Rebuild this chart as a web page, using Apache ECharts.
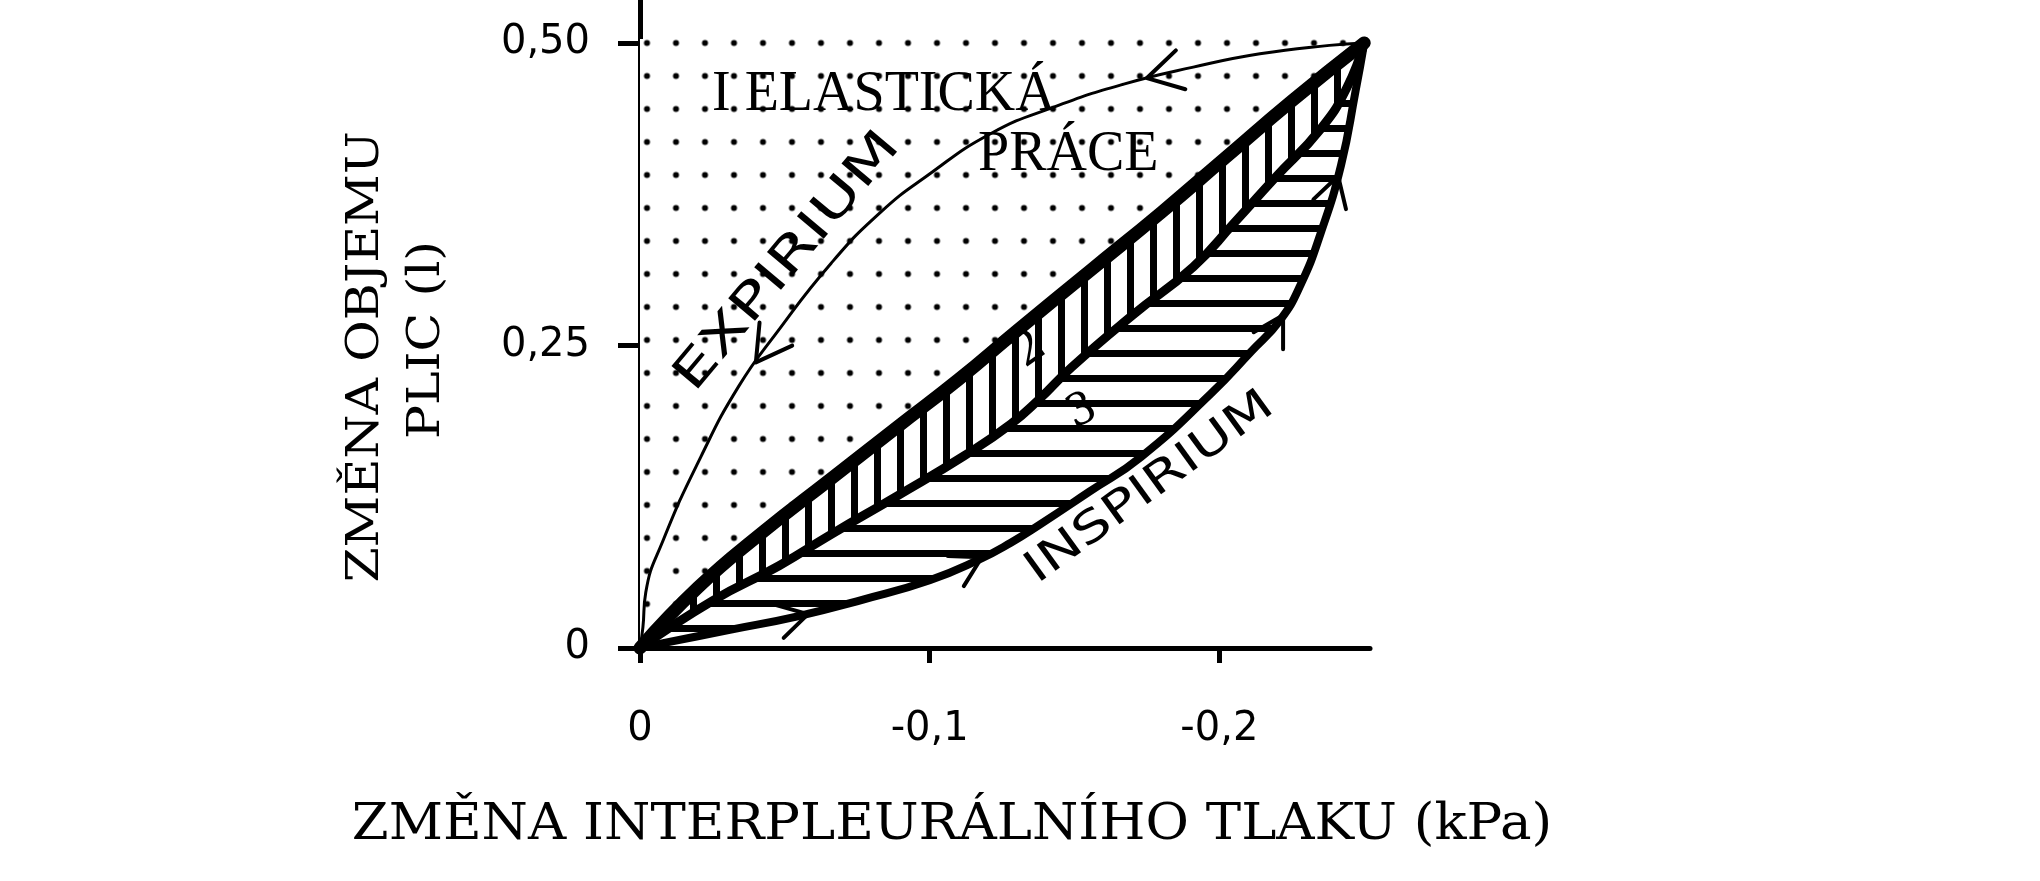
<!DOCTYPE html>
<html><head><meta charset="utf-8">
<script src="https://cdn.jsdelivr.net/npm/echarts@6/dist/echarts.min.js"></script>
<style>html,body{margin:0;padding:0;background:#fff}#c{width:2040px;height:881px}</style>
</head><body><div id="c"></div>
<script>
// ---------- DATA ----------
// x: change of interpleural pressure (kPa), y: change of lung volume (l)
const expX = [0, -0.001, -0.002, -0.008, -0.021, -0.034, -0.047, -0.066, -0.083, -0.099, -0.121, -0.144, -0.167, -0.191, -0.214, -0.238, -0.25];
const expY = [0, 0.017, 0.046, 0.089, 0.158, 0.216, 0.26, 0.318, 0.36, 0.39, 0.425, 0.448, 0.466, 0.48, 0.491, 0.498, 0.5];

const diagX = [0, -0.02, -0.042, -0.066, -0.089, -0.11, -0.13, -0.156, -0.18, -0.202, -0.225, -0.25];
const diagY = [0, 0.05, 0.095, 0.14, 0.183, 0.222, 0.262, 0.313, 0.36, 0.405, 0.452, 0.5];

const lowX = [0, -0.025, -0.048, -0.066, -0.089, -0.112, -0.128, -0.138, -0.149, -0.17, -0.191, -0.205, -0.219, -0.235, -0.244, -0.25];
const lowY = [0, 0.039, 0.068, 0.094, 0.126, 0.159, 0.185, 0.206, 0.232, 0.275, 0.315, 0.351, 0.388, 0.429, 0.463, 0.5];

const inspX = [0, -0.008, -0.031, -0.054, -0.077, -0.1, -0.117, -0.128, -0.138, -0.155, -0.173, -0.197, -0.211, -0.221, -0.228, -0.235, -0.242, -0.247, -0.25];
const inspY = [0, 0.004, 0.015, 0.026, 0.04, 0.056, 0.073, 0.087, 0.102, 0.129, 0.158, 0.21, 0.245, 0.271, 0.3, 0.343, 0.399, 0.46, 0.5];

const arrowExpX = [-0.175, -0.04];
const arrowExpY = [0.471, 0.236];
const arrowInspX = [-0.058, -0.118, -0.222, -0.241];
const arrowInspY = [0.028, 0.075, 0.275, 0.39];

const xTickValues = [0, -0.1, -0.2];
const yTickValues = [0, 0.25, 0.5];

const xTitle = 'ZMĚNA INTERPLEURÁLNÍHO TLAKU (kPa)';
const yTitle1 = 'ZMĚNA OBJEMU';
const yTitle2 = 'PLIC (l)';
const txtElastic = 'I ELASTICKÁ';
const txtPrace = 'PRÁCE';
const txtExp = 'EXPIRIUM';
const txtInsp = 'INSPIRIUM';
const txt2 = '2';
const txt3 = '3';

// ---------- helpers ----------
const pairs = (xs, ys) => xs.map((x, i) => [x, ys[i]]);
function tile(w, h, draw) {
  const c = document.createElement('canvas'); c.width = w; c.height = h;
  const g = c.getContext('2d'); g.fillStyle = '#fff'; g.fillRect(0, 0, w, h);
  g.fillStyle = '#000'; draw(g); return c;
}
const dotTile = tile(29, 33, g => { g.beginPath(); g.arc(14.5, 16.5, 3, 0, Math.PI * 2); g.fill(); });
const vTile = tile(23, 10, g => g.fillRect(0, 0, 7, 10));
const hTile = tile(10, 25, g => g.fillRect(0, 0, 10, 7));

const BLACK = '#000';
const SERIF = 'DejaVu Serif';
const SANS = 'DejaVu Sans';

function regionSeries(name, ptsFn, fill) {
  return {
    type: 'custom', name, z: 1, silent: true, clip: false, data: [[0, 0]],
    renderItem: (params, api) => ({
      type: 'polygon', shape: { points: ptsFn(api) }, style: { fill, stroke: null }
    })
  };
}
const toPx = (api, xs, ys) => xs.map((x, i) => api.coord([x, ys[i]]));

function arrowSeries(name, ax, ay, cx, cy, sign, len) {
  return {
    type: 'custom', name, z: 5, silent: true, clip: false, data: pairs(ax, ay),
    renderItem: (params, api) => {
      const tip = api.coord([api.value(0), api.value(1)]);
      const cp = toPx(api, cx, cy);
      let best = 0, bd = Infinity;
      for (let i = 0; i < cp.length - 1; i++) {
        const mx = (cp[i][0] + cp[i + 1][0]) / 2, my = (cp[i][1] + cp[i + 1][1]) / 2;
        const d = Math.hypot(mx - tip[0], my - tip[1]);
        if (d < bd && Math.hypot(cp[i+1][0]-cp[i][0], cp[i+1][1]-cp[i][1]) > 1) { bd = d; best = i; }
      }
      let dx = cp[best + 1][0] - cp[best][0], dy = cp[best + 1][1] - cp[best][1];
      const L = Math.hypot(dx, dy) || 1; dx = dx / L * sign; dy = dy / L * sign;
      const bx = -dx, by = -dy, a = 30 * Math.PI / 180;
      const rot = (x, y, t) => [x * Math.cos(t) - y * Math.sin(t), x * Math.sin(t) + y * Math.cos(t)];
      const b1 = rot(bx, by, a), b2 = rot(bx, by, -a);
      return {
        type: 'polyline',
        shape: { points: [[tip[0] + b1[0] * len, tip[1] + b1[1] * len], tip, [tip[0] + b2[0] * len, tip[1] + b2[1] * len]] },
        style: { stroke: BLACK, lineWidth: 4, fill: null, lineJoin: 'round', lineCap: 'round' }
      };
    }
  };
}
function curve(name, xs, ys, width) {
  return {
    type: 'line', name, data: pairs(xs, ys), symbol: 'none', showSymbol: false, smooth: 0.5,
    z: 3, silent: true, lineStyle: { color: BLACK, width, cap: 'round', join: 'round' }
  };
}
function txt(text, x, y, size, family, opts) {
  opts = opts || {};
  return {
    type: 'text', x, y, rotation: (opts.rot || 0) * Math.PI / 180, scaleX: opts.sx || 1, z: 10, silent: true,
    style: {
      text, fill: BLACK, fontSize: size, fontFamily: family,
      align: opts.align || 'center', textAlign: opts.align || 'center',
      verticalAlign: 'middle', textVerticalAlign: 'middle'
    }
  };
}

const chart = echarts.init(document.getElementById('c'), null, { renderer: 'canvas' });
chart.setOption({
  animation: false,
  backgroundColor: '#fff',
  grid: { left: 640, right: 670, top: 0, bottom: 233, containLabel: false },
  xAxis: {
    type: 'value', inverse: true, min: -0.252, max: 0,
    axisLine: { show: true, onZero: false, lineStyle: { color: BLACK, width: 5 } },
    axisTick: { show: true, customValues: xTickValues, length: 15, lineStyle: { color: BLACK, width: 5 } },
    axisLabel: {
      customValues: xTickValues, margin: 62, color: BLACK, fontSize: 40, fontFamily: SANS,
      formatter: v => v === 0 ? '0' : v.toFixed(1).replace('.', ',')
    },
    splitLine: { show: false }
  },
  yAxis: {
    type: 'value', min: 0, max: 0.5355,
    axisLine: { show: true, onZero: false, lineStyle: { color: BLACK, width: 5 } },
    axisTick: { show: true, customValues: yTickValues, length: 22, lineStyle: { color: BLACK, width: 5 } },
    axisLabel: {
      customValues: yTickValues, margin: 50, color: BLACK, fontSize: 40, fontFamily: SANS,
      formatter: v => v === 0 ? '0' : v.toFixed(2).replace('.', ',')
    },
    splitLine: { show: false }
  },
  series: [
    regionSeries('elasticka prace', api => {
      const p = toPx(api, diagX, diagY);
      const tr = api.coord([diagX[diagX.length - 1], 0.5]);
      const tl = api.coord([0, 0.5]);
      return p.concat([[tr[0], tr[1] - 4], [tl[0], tl[1] - 4]]);
    }, { image: dotTile, repeat: 'repeat', x: 632.5, y: 26.5 }),
    regionSeries('oblast 2', api => toPx(api, diagX, diagY).concat(toPx(api, lowX, lowY).reverse()),
      { image: vTile, repeat: 'repeat' }),
    regionSeries('oblast 3', api => toPx(api, lowX, lowY).concat(toPx(api, inspX, inspY).reverse()),
      { image: hTile, repeat: 'repeat' }),
    curve('expirium', expX, expY, 3),
    curve('hranice 1-2', diagX, diagY, 13),
    curve('hranice 2-3', lowX, lowY, 9),
    curve('inspirium', inspX, inspY, 8),
    arrowSeries('sipky expirium', arrowExpX, arrowExpY, expX, expY, -1, 40),
    arrowSeries('sipky inspirium', arrowInspX, arrowInspY, inspX, inspY, 1, 34)
  ],
  graphic: [
    txt(xTitle, 952, 826, 50, SERIF, { sx: 1.06 }),
    txt(yTitle1, 367, 357, 44, SERIF, { rot: 90, sx: 1.15 }),
    txt(yTitle2, 428, 340, 44, SERIF, { rot: 90, sx: 1.15 }),
    txt(txtElastic, 712, 95, 56, 'Liberation Serif', { align: 'left' }),
    txt(txtPrace, 978, 155, 56, 'Liberation Serif', { align: 'left' }),
    txt(txtExp, 788, 262, 48, SANS, { rot: 50, sx: 1.4 }),
    txt(txtInsp, 1150, 488, 44, SANS, { rot: 36, sx: 1.3 }),
    txt(txt2, 1030, 350, 46, SERIF, { rot: 35 }),
    txt(txt3, 1082, 412, 44, SERIF, { rot: 25 })
  ]
});
</script></body></html>
